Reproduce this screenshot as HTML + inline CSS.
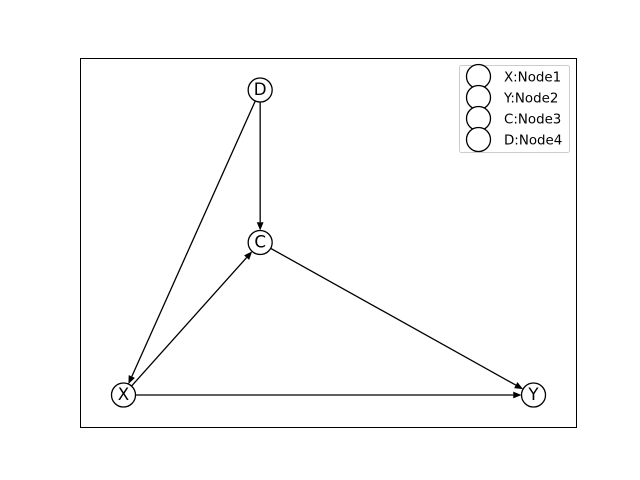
<!DOCTYPE html>
<html>
<head>
<meta charset="utf-8">
<style>
html,body{margin:0;padding:0;background:#fff;width:640px;height:480px;overflow:hidden}
svg{display:block}
text{font-family:"DejaVu Sans","Liberation Sans",sans-serif;fill:#000}
</style>
</head>
<body>
<svg id="chart" width="640" height="480" viewBox="0 0 640 480" xmlns="http://www.w3.org/2000/svg">
<rect x="0" y="0" width="640" height="480" fill="#fff"/>
<rect x="80.5" y="58.5" width="496" height="369" fill="#fff" stroke="#000" stroke-width="1"/>
<g id="edges"></g>
<g id="nodes"></g>
<rect x="459.5" y="65.5" width="110" height="87" rx="2" fill="#fff" fill-opacity="0.8" stroke="#ccc" stroke-width="1"/>
<g id="legend"></g>
</svg>
<script>
const nodeNames = ['X', 'Y', 'C', 'D'];
const nodeXValues = [0, 3, 1, 1];
const nodeYValues = [0, 0, 1, 2];
const edgeSources = ['X', 'X', 'C', 'D', 'D'];
const edgeTargets = ['Y', 'C', 'Y', 'C', 'X'];
const legendLabels = ['X:Node1', 'Y:Node2', 'C:Node3', 'D:Node4'];

const SVG_NS = 'http://www.w3.org/2000/svg';
const xScale = function (v) { return 123.5 + v * 136.67; };
const yScale = function (v) { return 395 - v * 152.5; };
const NODE_R = 12;
const edgesGroup = document.getElementById('edges');
const nodesGroup = document.getElementById('nodes');
const legendGroup = document.getElementById('legend');

edgeSources.forEach(function (src, i) {
  const tgt = edgeTargets[i];
  const si = nodeNames.indexOf(src);
  const ti = nodeNames.indexOf(tgt);
  const x1 = xScale(nodeXValues[si]);
  const y1 = yScale(nodeYValues[si]);
  const x2 = xScale(nodeXValues[ti]);
  const y2 = yScale(nodeYValues[ti]);
  const len = Math.hypot(x2 - x1, y2 - y1);
  const ux = (x2 - x1) / len;
  const uy = (y2 - y1) / len;
  const tipX = x2 - ux * NODE_R;
  const tipY = y2 - uy * NODE_R;
  const baseX = tipX - ux * 8.3;
  const baseY = tipY - uy * 8.3;
  const line = document.createElementNS(SVG_NS, 'line');
  line.setAttribute('x1', x1);
  line.setAttribute('y1', y1);
  line.setAttribute('x2', baseX);
  line.setAttribute('y2', baseY);
  line.setAttribute('stroke', '#000');
  line.setAttribute('stroke-width', '1.3');
  
  
  edgesGroup.appendChild(line);
  const head = document.createElementNS(SVG_NS, 'polygon');
  const hw = 3.4;
  head.setAttribute('points', [
    tipX + ',' + tipY,
    (baseX - uy * hw) + ',' + (baseY + ux * hw),
    (baseX + uy * hw) + ',' + (baseY - ux * hw)
  ].join(' '));
  head.setAttribute('fill', '#000');
  
  
  edgesGroup.appendChild(head);
});

nodeNames.forEach(function (name, i) {
  const cx = xScale(nodeXValues[i]);
  const cy = yScale(nodeYValues[i]);
  const circle = document.createElementNS(SVG_NS, 'circle');
  circle.setAttribute('cx', cx);
  circle.setAttribute('cy', cy);
  circle.setAttribute('r', NODE_R);
  circle.setAttribute('fill', '#fff');
  circle.setAttribute('stroke', '#000');
  circle.setAttribute('stroke-width', '1.3');
  
  
  nodesGroup.appendChild(circle);
  const label = document.createElementNS(SVG_NS, 'text');
  label.setAttribute('x', cx);
  label.setAttribute('y', cy + 5);
  label.setAttribute('text-anchor', 'middle');
  label.setAttribute('font-size', '16.67');
  label.textContent = name;
  
  
  nodesGroup.appendChild(label);
});

legendLabels.forEach(function (text, i) {
  const rowY = 76.5 + i * 21;
  const marker = document.createElementNS(SVG_NS, 'circle');
  marker.setAttribute('cx', 478.5);
  marker.setAttribute('cy', rowY);
  marker.setAttribute('r', NODE_R);
  marker.setAttribute('fill', '#fff');
  marker.setAttribute('stroke', '#000');
  marker.setAttribute('stroke-width', '1.3');
  
  
  legendGroup.appendChild(marker);
});
legendLabels.forEach(function (text, i) {
  const rowY = 76.5 + i * 21;
  const label = document.createElementNS(SVG_NS, 'text');
  label.setAttribute('x', 504);
  label.setAttribute('y', rowY + 5);
  label.setAttribute('font-size', '13.4');
  label.textContent = text;
  
  
  legendGroup.appendChild(label);
});
</script>
</body>
</html>
